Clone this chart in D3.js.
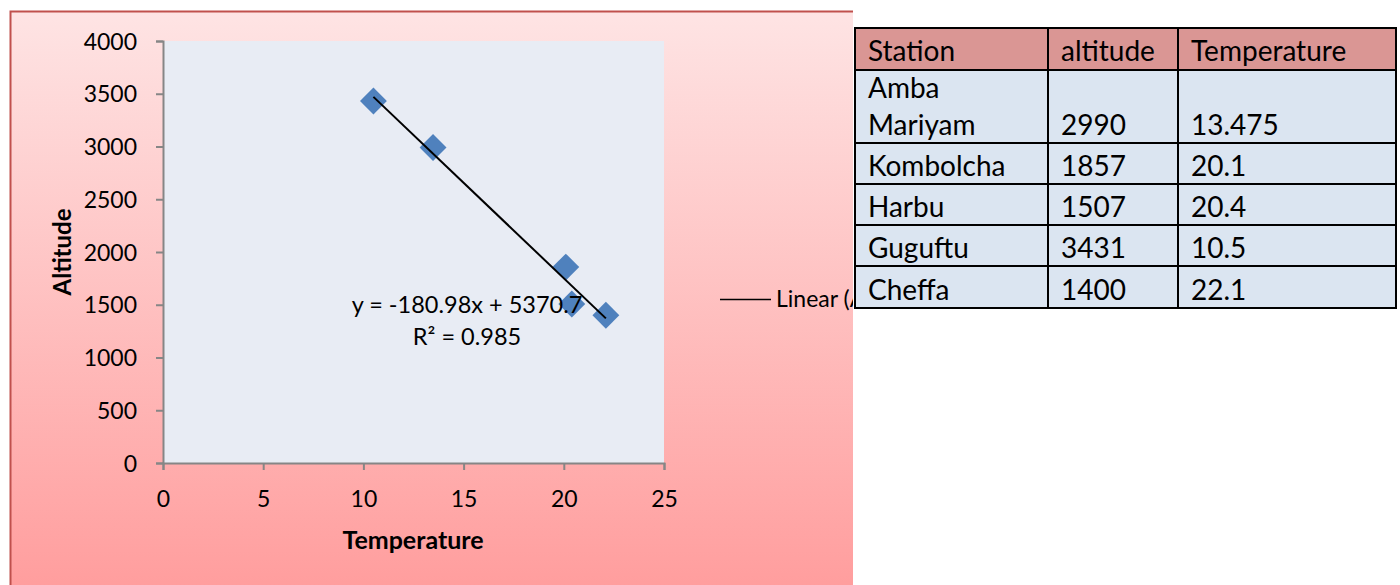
<!DOCTYPE html>
<html><head><meta charset="utf-8">
<script src="https://cdn.jsdelivr.net/npm/d3@7"></script>
<style>body{margin:0;background:#fff;}svg{display:block;font-family:Lato,"Open Sans",sans-serif;}</style>
</head><body>
<svg id="c" width="1400" height="585"></svg>
<script>
const stations = ["Amba Mariyam", "Kombolcha", "Harbu", "Guguftu", "Cheffa"];
const altitudes = [2990, 1857, 1507, 3431, 1400];
const temperatures = [13.475, 20.1, 20.4, 10.5, 22.1];
const xTicks = [0, 5, 10, 15, 20, 25];
const yTicks = [0, 500, 1000, 1500, 2000, 2500, 3000, 3500, 4000];
const headers = ["Station", "altitude", "Temperature"];
const slope = -180.98, intercept = 5370.7, r2 = 0.985;

const svg = d3.select("#c");
const defs = svg.append("defs");
const g = defs.append("linearGradient").attr("id","bg").attr("x1",0).attr("y1",0).attr("x2",0).attr("y2",1);
g.append("stop").attr("offset","0%").attr("stop-color","#fee4e4");
g.append("stop").attr("offset","100%").attr("stop-color","#ff9d9d");
defs.append("clipPath").attr("id","chartClip").append("rect").attr("x",0).attr("y",0).attr("width",853).attr("height",585);

const chart = svg.append("g").attr("clip-path","url(#chartClip)");

// chart area
chart.append("rect").attr("x",10).attr("y",11).attr("width",843).attr("height",580).attr("fill","url(#bg)");
chart.append("path").attr("d","M10.5,590V11.5H853").attr("fill","none").attr("stroke","#c0504d").attr("stroke-width",2);

const x = d3.scaleLinear().domain([0,25]).range([163,664]);
const y = d3.scaleLinear().domain([0,4000]).range([463,41]);

chart.append("rect").attr("x",x(0)).attr("y",y(4000)).attr("width",x(25)-x(0)).attr("height",y(0)-y(4000)).attr("fill","#e8ecf4");

const yAxis = chart.append("g").attr("transform",`translate(${x(0)},0)`)
  .call(d3.axisLeft(y).tickValues(yTicks).tickSize(7).tickPadding(19).tickFormat(d3.format("d")));
const xAxis = chart.append("g").attr("transform",`translate(0,${y(0)})`)
  .call(d3.axisBottom(x).tickValues(xTicks).tickSize(7).tickPadding(21).tickFormat(d3.format("d")));
[xAxis,yAxis].forEach(a=>{
  a.select(".domain").attr("stroke","#868686").attr("stroke-width",2);
  a.selectAll(".tick line").attr("stroke","#868686").attr("stroke-width",2);
  a.selectAll(".tick text").attr("fill","#000").style("font-size","23px").style("font-family","Lato, sans-serif");
});
yAxis.selectAll(".tick text").attr("dy","0.35em");

chart.append("text").attr("x",413).attr("y",549).attr("text-anchor","middle")
  .style("font-size","25px").style("font-weight","bold").text("Temperature");
chart.append("text").attr("transform","translate(71,252) rotate(-90)").attr("text-anchor","middle")
  .style("font-size","24px").style("font-weight","bold").text("Altitude");

// points
const pts = stations.map((s,i)=>({s, a:altitudes[i], t:temperatures[i]}));
chart.append("g").selectAll("path").data(pts).join("path")
  .attr("d", d3.symbol().type(d3.symbolSquare).size(19*19))
  .attr("transform", d=>`translate(${x(d.t)},${y(d.a)}) rotate(45)`)
  .attr("fill","#4f81bd");

// trend line
const tmin = d3.min(temperatures), tmax = d3.max(temperatures);
chart.append("line").attr("x1",x(tmin)).attr("y1",y(slope*tmin+intercept))
  .attr("x2",x(tmax)).attr("y2",y(slope*tmax+intercept))
  .attr("stroke","#000").attr("stroke-width",2);

chart.append("text").attr("x",467).attr("y",313).attr("text-anchor","middle").style("font-size","23.5px")
  .text(`y = ${slope}x + ${intercept}`);
chart.append("text").attr("x",467).attr("y",345).attr("text-anchor","middle").style("font-size","23.5px")
  .text(`R² = ${r2}`);

// legend (partly hidden behind the table, as in the reference)
chart.append("line").attr("x1",720).attr("x2",771).attr("y1",299.5).attr("y2",299.5).attr("stroke","#000").attr("stroke-width",1.5);
chart.append("text").attr("x",776).attr("y",307).style("font-size","23px").text("Linear (Altitude)");

// table
const colX = [855, 1048, 1178, 1396];
const rowY = [28, 70, 143, 184, 225, 266, 308];
const tb = svg.append("g");
tb.append("rect").attr("x",colX[0]).attr("y",rowY[0]).attr("width",colX[3]-colX[0]).attr("height",rowY[1]-rowY[0]).attr("fill","#da9694");
tb.append("rect").attr("x",colX[0]).attr("y",rowY[1]).attr("width",colX[3]-colX[0]).attr("height",rowY[6]-rowY[1]).attr("fill","#dbe5f1");
const fs = "28px";
headers.forEach((h,i)=>{
  tb.append("text").attr("x",colX[i]+13).attr("y",rowY[0]+33).style("font-size",fs).text(h);
});
pts.forEach((d,r)=>{
  const bottom = rowY[r+2];
  const words = d.s.split(" ");
  if (words.length>1) {
    tb.append("text").attr("x",colX[0]+13).attr("y",rowY[r+1]+28).style("font-size",fs).text(words[0]);
    tb.append("text").attr("x",colX[0]+13).attr("y",bottom-8).style("font-size",fs).text(words.slice(1).join(" "));
  } else {
    tb.append("text").attr("x",colX[0]+13).attr("y",bottom-8).style("font-size",fs).text(d.s);
  }
  tb.append("text").attr("x",colX[1]+13).attr("y",bottom-8).style("font-size",fs).text(d.a);
  tb.append("text").attr("x",colX[2]+13).attr("y",bottom-8).style("font-size",fs).text(d.t);
});
rowY.forEach(yy=>tb.append("line").attr("x1",colX[0]-1).attr("x2",colX[3]+1).attr("y1",yy).attr("y2",yy).attr("stroke","#000").attr("stroke-width",2));
colX.forEach(xx=>tb.append("line").attr("x1",xx).attr("x2",xx).attr("y1",rowY[0]).attr("y2",rowY[6]).attr("stroke","#000").attr("stroke-width",2));
</script>
</body></html>
